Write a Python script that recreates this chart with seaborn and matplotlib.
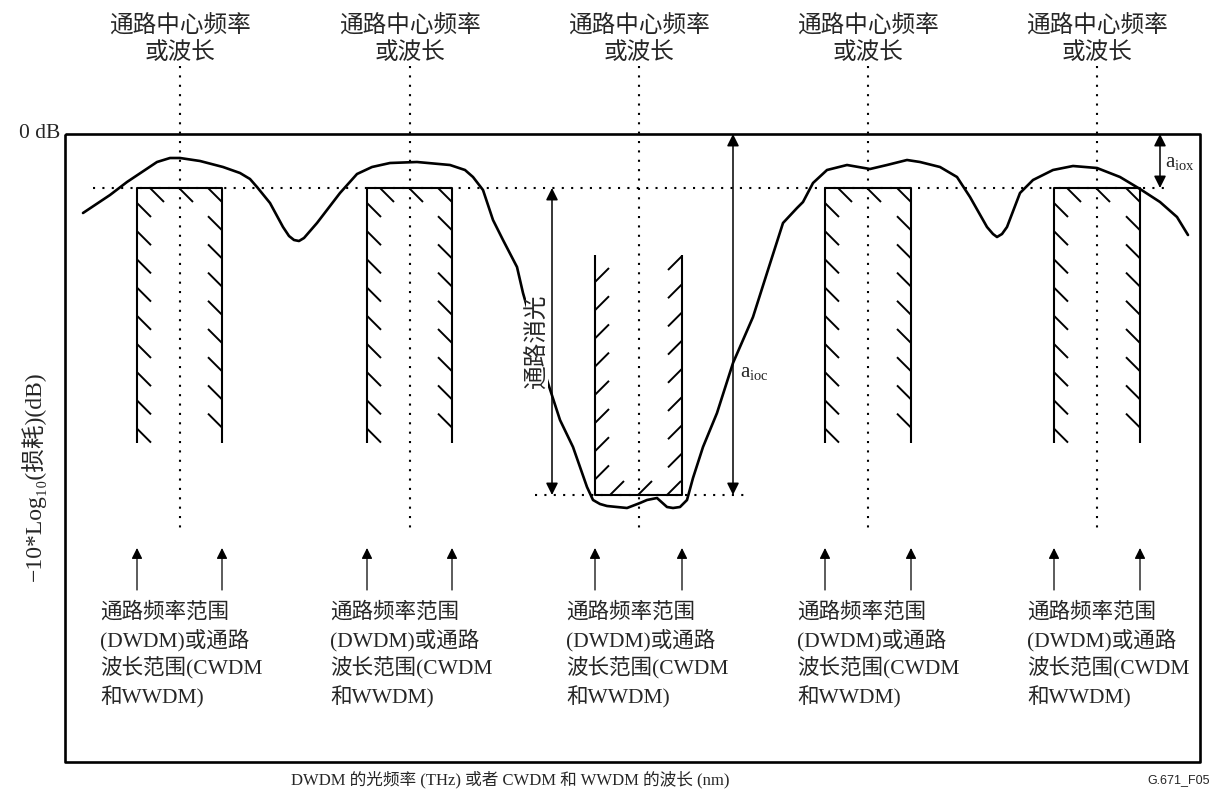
import pandas as pd
import seaborn as sns
import matplotlib.pyplot as plt

sns.set_theme(style="white")
plt.rcParams['font.family'] = ['Liberation Serif', 'Noto Sans CJK SC', 'DejaVu Sans']
plt.rcParams['mathtext.fontset'] = 'stix'

# drawing units are pixels of the 1213x796 sheet (y grows downwards)
channel_centers = [180, 410, 639, 868, 1097]
channel_left = [137, 367, 595, 825, 1054]
channel_right = [222, 452, 682, 911, 1140]
stop_channel = 2          # the middle channel is the blocked one
label_left = [100, 330, 566, 797, 1027]

ref_level = 188           # dotted reference level (passband limit)
pass_bottom = 443
stop_top = 255
stop_bottom = 495

# measured transmission curve
curve_x = [83, 110, 127, 145, 157, 170, 180, 200, 223, 240, 250, 257, 270, 283, 289, 294,
           299, 304, 317, 340, 357, 372, 390, 417, 450, 465, 473, 483, 493, 503, 517, 523,
           535, 547, 560, 573, 587, 593, 600, 607, 627, 640, 647, 657, 667, 673, 680, 687,
           693, 703, 717, 733, 753, 767, 783, 797, 803, 813, 827, 847, 870, 887, 907, 920,
           940, 957, 970, 987, 993, 997, 1002, 1007, 1020, 1033, 1053, 1073, 1097, 1120,
           1140, 1160, 1177, 1188]
curve_y = [213, 195, 182, 170, 162, 158, 158, 161, 167, 173, 179, 187, 203, 227, 236, 240,
           241, 238, 223, 193, 174, 167, 163, 162, 165, 170, 177, 190, 220, 240, 267, 293,
           335, 380, 420, 447, 487, 500, 504, 506, 508, 503, 500, 498, 507, 508, 507, 500,
           478, 447, 413, 363, 317, 273, 223, 208, 202, 183, 170, 165, 169, 165, 160, 162,
           167, 177, 197, 227, 234, 237, 234, 227, 193, 180, 170, 166, 168, 177, 189, 202,
           217, 235]

top_label = ["通路中心频率", "或波长"]
bottom_label = ["通路频率范围", "(DWDM)或通路", "波长范围(CWDM", "和WWDM)"]
y_label = "−10*Log₁₀(损耗)(dB)"
x_label = "DWDM 的光频率 (THz) 或者 CWDM 和 WWDM 的波长 (nm)"

curve_df = pd.DataFrame({"x": curve_x, "y": curve_y})

fig = plt.figure(figsize=(12.13, 7.96), dpi=100)
ax = fig.add_axes([0, 0, 1, 1])

k = dict(color='black', solid_capstyle='butt')
dots = dict(color='black', lw=1.5, linestyle=(0, (1, 3.5)))

# frame
ax.plot([65, 1200, 1200, 65, 65], [134, 134, 762, 762, 134], lw=1.9, **k)

# dotted guide lines
for c in channel_centers:
    ax.plot([c, c], [66, 530], **dots)
ax.plot([93, 1170], [ref_level, ref_level], **dots)
ax.plot([535, 745], [stop_bottom, stop_bottom], **dots)

# hatched masks
step, t = 28.2, 14
for i, (L, R) in enumerate(zip(channel_left, channel_right)):
    if i == stop_channel:
        ax.plot([L, L, R, R], [stop_top, stop_bottom, stop_bottom, stop_top], lw=1.5, **k)
        for j in range(8):
            y0 = 282 + step * j
            ax.plot([L, L + t], [y0, y0 - t], lw=1.4, **k)
            y1 = 256 + step * j
            ax.plot([R - t, R], [y1 + t, y1], lw=1.4, **k)
        for x0 in [L + 15, L + 43, L + 72]:
            ax.plot([x0, x0 + t], [stop_bottom, stop_bottom - t], lw=1.4, **k)
    else:
        ax.plot([L, L, R, R], [pass_bottom, ref_level, ref_level, pass_bottom], lw=1.5, **k)
        for j in range(9):
            y0 = 203 + step * j
            ax.plot([L, L + t], [y0, y0 + t], lw=1.4, **k)
            y1 = 202 + step * j
            ax.plot([R - t, R], [y1 - t, y1], lw=1.4, **k)
        for x0 in [L + 13, L + 42]:
            ax.plot([x0, x0 + t], [ref_level, ref_level + t], lw=1.4, **k)
    # arrows pointing at the band edges
    for x in (L, R):
        ax.annotate('', xy=(x, 548), xytext=(x, 590),
                    arrowprops=dict(arrowstyle='-|>', color='black', lw=0.9,
                                    mutation_scale=16, shrinkA=0, shrinkB=0))

# transmission curve
sns.lineplot(data=curve_df, x="x", y="y", sort=False, estimator=None,
             color='black', lw=1.9, ax=ax)
ax.lines[-1].set_solid_joinstyle('round')
ax.set_xlim(0, 1213)
ax.set_ylim(796, 0)
ax.axis('off')

# double-headed dimension arrows
dim = dict(arrowstyle='<|-|>', color='black', lw=1.1, mutation_scale=18,
           shrinkA=0, shrinkB=0)
ax.annotate('', xy=(552, ref_level), xytext=(552, stop_bottom), arrowprops=dim)
ax.annotate('', xy=(733, 134), xytext=(733, stop_bottom), arrowprops=dim)
ax.annotate('', xy=(1160, 134), xytext=(1160, ref_level), arrowprops=dim)

ax.text(537, 342, "通路消光", rotation=90, ha='center', va='center', fontsize=17,
        bbox=dict(facecolor='white', edgecolor='none', pad=0), zorder=5)
ax.text(740, 372, r'$\mathregular{a_{ioc}}$', ha='left', va='center', fontsize=15)
ax.text(1165, 162, r'$\mathregular{a_{iox}}$', ha='left', va='center', fontsize=15)

# text labels
for c, lx in zip(channel_centers, label_left):
    for j, line in enumerate(top_label):
        ax.text(c, 25 + 28 * j, line, ha='center', va='center', fontsize=17)
    for j, line in enumerate(bottom_label):
        ax.text(lx, 612 + 28.3 * j, line, ha='left', va='center', fontsize=15.5)

ax.text(60, 134, "0 dB", ha='right', va='center', fontsize=15.5)
ax.text(33, 476, y_label, rotation=90, ha='center', va='center', fontsize=17)
ax.text(510, 780, x_label, ha='center', va='center', fontsize=12)
ax.text(1210, 780, "G.671_F05", ha='right', va='center', fontsize=9,
        family='Liberation Sans')

fig.savefig("out.png", dpi=100, facecolor='white')
